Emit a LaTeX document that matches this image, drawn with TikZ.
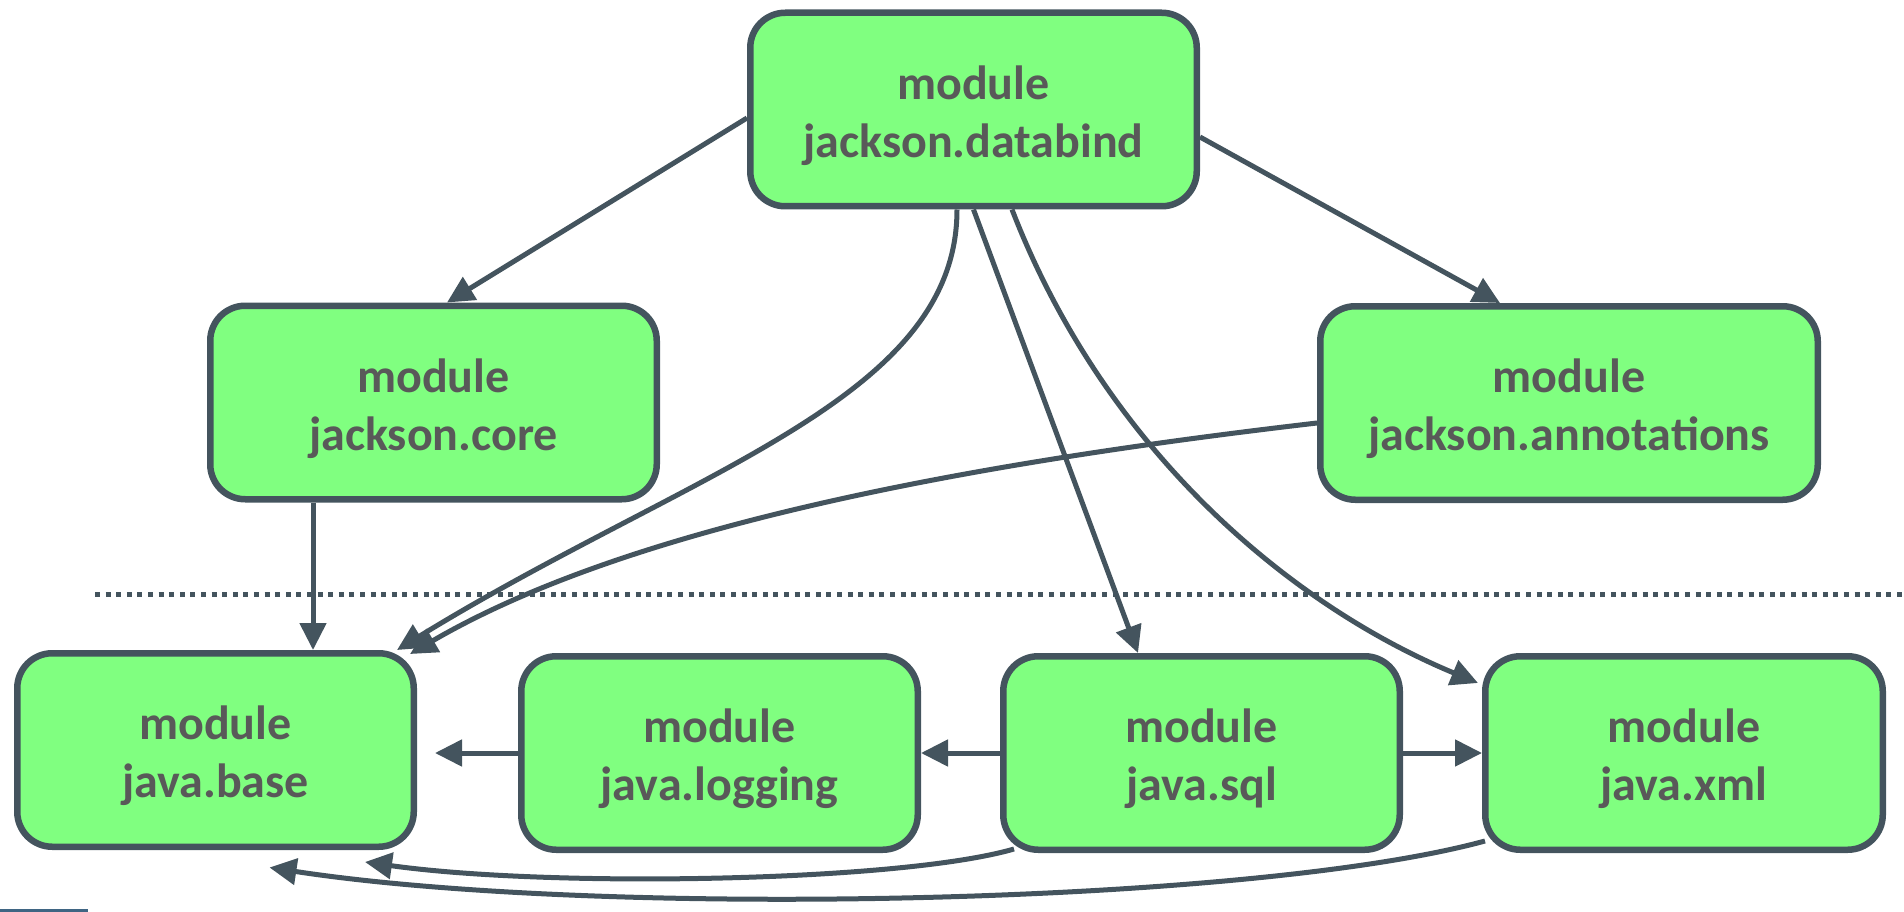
\documentclass[tikz,border=0pt]{standalone}
\usepackage{fontspec}
\setmainfont{Carlito}
\usetikzlibrary{arrows.meta}
\definecolor{edge}{RGB}{68,84,94}
\definecolor{boxfill}{RGB}{128,255,128}
\definecolor{label}{RGB}{89,89,89}
\definecolor{stripe}{RGB}{63,101,131}
% strut that lowers the two-line label inside its box
\newcommand{\toppad}{\rule{0pt}{46pt}}
\begin{document}
\begin{tikzpicture}[x=1pt,y=-1pt,
  modbox/.style={draw=edge, line width=6.5pt, fill=boxfill, rounded corners=35pt,
    minimum height=193.5pt, inner sep=0pt, align=center, text=label,
    font=\fontsize{48}{58}\selectfont\bfseries},
  wide/.style={minimum width=446.5pt},
  narrow/.style={minimum width=396.5pt},
  dep/.style={draw=edge, line width=5pt, -{Triangle[length=27pt,width=26pt]}},
  divider/.style={draw=edge, line width=5pt, dash pattern=on 5pt off 5.6pt}]
\useasboundingbox (0,0) rectangle (1904,912);

% layer separator between library modules and JDK modules
\coordinate (divL) at (95,594);
\coordinate (divR) at (1904,594);
\draw[divider] (divL) -- (divR);

% corner stripe
\fill[stripe] (0,909) rectangle (88,912);

% modules
\node[modbox,wide] (db) at (973.5,109.5) {\toppad module\\jackson.databind};
\node[modbox,wide] (core) at (433.5,402.5) {\toppad module\\jackson.core};
\node[modbox,minimum width=497.5pt] (ann) at (1569,403) {\toppad module\\jackson.annotations};
\node[modbox,narrow] (base) at (215.5,750) {\toppad module\\java.base};
\node[modbox,narrow] (log) at (719.5,753) {\toppad module\\java.logging};
\node[modbox,narrow] (sql) at (1201.5,753) {\toppad module\\java.sql};
\node[modbox,minimum width=397.5pt] (xml) at (1684,753) {\toppad module\\java.xml};

% requires edges
\draw[dep] ([yshift=-8.5pt]db.west) -- ([xshift=13.5pt]core.north);
\draw[dep] ([yshift=-27.5pt]db.east) -- ([xshift=-69pt]ann.north);
\draw[dep] (db.south) -- ([xshift=-63.5pt]sql.north);
\draw[dep] ([xshift=-16.5pt]db.south) .. controls (957,400) and (690,470) .. ([xshift=-20pt]base.north east);
\draw[dep] ([xshift=38.5pt]db.south) .. controls (1105,450) and (1290,605) .. ([xshift=-4pt,yshift=-30pt]xml.north west);
\draw[dep] ([yshift=-20pt]ann.west) .. controls (1000,460) and (640,520) .. ([xshift=-7pt,yshift=-4pt]base.north east);
\draw[dep] ([xshift=-120.5pt]core.south) -- ([xshift=97.5pt]base.north);
\draw[dep] (sql.west) -- (log.east);
\draw[dep] (log.west) -- ([xshift=18pt]base.east |- log.west);
\draw[dep] (sql.east) -- (xml.west);
\draw[dep] ([xshift=14pt,yshift=4pt]sql.south west) .. controls (900,882) and (550,888) .. ([xshift=-52pt,yshift=-12pt]base.south east);
\draw[dep] ([xshift=3pt,yshift=12pt]xml.south west) .. controls (1250,905) and (600,918) .. ([xshift=-147.5pt,yshift=-17.5pt]base.south east);
\end{tikzpicture}
\end{document}
